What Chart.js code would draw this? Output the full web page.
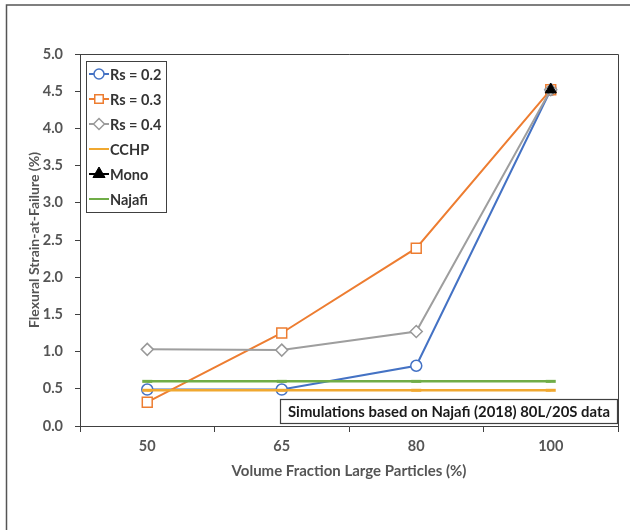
<!DOCTYPE html>
<html>
<head>
<meta charset="utf-8">
<script src="https://cdn.jsdelivr.net/npm/chart.js@4.4.1/dist/chart.umd.min.js"></script>
<style>
  html, body { margin: 0; padding: 0; background: #fff; }
  #wrap { width: 630px; height: 530px; position: relative; }
</style>
</head>
<body>
<div id="wrap"><canvas id="c" width="630" height="530"></canvas></div>
<script>
// ---- data ----
const categories = ['50', '65', '80', '100'];
const rs02 = [0.49, 0.49, 0.81, 4.52];
const rs03 = [0.32, 1.25, 2.39, 4.52];
const rs04 = [1.03, 1.02, 1.27, 4.52];
const cchp = [0.48, 0.48, 0.48, 0.48];
const mono = [null, null, null, 4.52];
const najafi = [0.60, 0.60, 0.60, 0.60];
const yTicks = [0, 0.5, 1, 1.5, 2, 2.5, 3, 3.5, 4, 4.5, 5];
const xTitle = 'Volume Fraction Large Particles (%)';
const yTitle = 'Flexural Strain-at-Failure (%)';
const noteText = 'Simulations based on Najafi (2018) 80L/20S data';

const FONT = 'Lato, "Open Sans", "DejaVu Sans", sans-serif';

const frame = {
  id: 'frame',
  beforeDraw(chart) {
    const ctx = chart.ctx;
    ctx.save();
    ctx.fillStyle = '#fff';
    ctx.fillRect(0, 0, chart.width, chart.height);
    ctx.strokeStyle = '#555';
    ctx.lineWidth = 1.5;
    ctx.beginPath();
    ctx.moveTo(6.5, chart.height);
    ctx.lineTo(6.5, 5);
    ctx.lineTo(chart.width, 5);
    ctx.stroke();
    ctx.restore();
  },
  afterDraw(chart) {
    const ctx = chart.ctx;
    const a = chart.chartArea;
    ctx.save();
    // top and right plot border
    ctx.strokeStyle = '#404040';
    ctx.lineWidth = 1;
    ctx.beginPath();
    ctx.moveTo(a.left, a.top + 0.5);
    ctx.lineTo(a.right + 0.5, a.top + 0.5);
    ctx.lineTo(a.right + 0.5, a.bottom);
    ctx.stroke();

    // legend
    const lx = a.left + 6, ly = a.top + 7, lw = 80, lh = 151;
    ctx.fillStyle = '#fff';
    ctx.fillRect(lx, ly, lw, lh);
    ctx.strokeStyle = '#404040';
    ctx.lineWidth = 1;
    ctx.strokeRect(lx + 0.5, ly + 0.5, lw, lh);
    ctx.font = 'bold 14.5px ' + FONT;
    ctx.textBaseline = 'middle';
    ctx.textAlign = 'left';
    chart.data.datasets.forEach((ds, k) => {
      const y = ly + 13 + k * 25;
      const x0 = lx + 3, x1 = lx + 23;
      ctx.strokeStyle = ds.borderColor;
      ctx.lineWidth = 2;
      ctx.beginPath();
      ctx.moveTo(x0, y);
      ctx.lineTo(x1, y);
      ctx.stroke();
      if (ds.legendMarker) {
        ctx.fillStyle = ds.pointBackgroundColor;
        ctx.strokeStyle = ds.pointBorderColor || ds.borderColor;
        ctx.lineWidth = ds.pointBorderWidth || 1.5;
        Chart.helpers.drawPoint(ctx, {
          pointStyle: ds.pointStyle,
          radius: ds.legendRadius,
          borderWidth: ds.pointBorderWidth || 1.5,
          rotation: 0
        }, (x0 + x1) / 2, y);
      }
      ctx.fillStyle = '#333';
      ctx.fillText(ds.label, x1 + 1, y + 1);
    });

    // note box
    ctx.font = 'bold 14px ' + FONT;
    let w = ctx.measureText(noteText).width;
    let size = 14 * 322 / w;
    ctx.font = 'bold ' + size.toFixed(2) + 'px ' + FONT;
    const bx = 280, by = 399, bw = 337, bh = 24;
    ctx.fillStyle = '#fff';
    ctx.fillRect(bx, by, bw, bh);
    ctx.strokeStyle = '#404040';
    ctx.lineWidth = 1.2;
    ctx.strokeRect(bx + 0.5, by + 0.5, bw, bh);
    ctx.fillStyle = '#1a1a1a';
    ctx.textAlign = 'left';
    ctx.textBaseline = 'middle';
    ctx.fillText(noteText, bx + 8, by + bh / 2 + 1);
    ctx.restore();
  }
};

new Chart(document.getElementById('c'), {
  type: 'line',
  data: {
    labels: categories,
    datasets: [
      { label: 'Rs = 0.2', data: rs02, borderColor: '#4472C4', borderWidth: 2,
        pointStyle: 'circle', pointRadius: 5.5, pointBackgroundColor: '#fff', pointBorderColor: '#4472C4',
        pointBorderWidth: 1.5, legendMarker: true, legendRadius: 5, order: 6 },
      { label: 'Rs = 0.3', data: rs03, borderColor: '#ED7D31', borderWidth: 2,
        pointStyle: 'rect', pointRadius: 7, pointBackgroundColor: '#fff', pointBorderColor: '#ED7D31',
        pointBorderWidth: 1.5, legendMarker: true, legendRadius: 6, order: 5 },
      { label: 'Rs = 0.4', data: rs04, borderColor: '#9E9E9E', borderWidth: 2,
        pointStyle: 'rectRot', pointRadius: 6, pointBackgroundColor: '#fff', pointBorderColor: '#999',
        pointBorderWidth: 1.5, legendMarker: true, legendRadius: 5.5, order: 4 },
      { label: 'CCHP', data: cchp, borderColor: '#F0A830', borderWidth: 2.5,
        pointStyle: 'line', pointRadius: 5, pointBorderColor: '#F0A830', pointBackgroundColor: '#F0A830',
        pointBorderWidth: 3, legendMarker: false, order: 3 },
      { label: 'Mono', data: mono, borderColor: '#000', borderWidth: 2,
        pointStyle: 'triangle', pointRadius: 6.5, pointBackgroundColor: '#000', pointBorderColor: '#000',
        pointBorderWidth: 1, legendMarker: true, legendRadius: 7, order: 0 },
      { label: 'Najafi', data: najafi, borderColor: '#70AD47', borderWidth: 2.5,
        pointStyle: 'line', pointRadius: 5, pointBorderColor: '#70AD47', pointBackgroundColor: '#70AD47',
        pointBorderWidth: 3, legendMarker: false, order: 2 }
    ]
  },
  options: {
    responsive: false,
    animation: false,
    layout: { padding: { left: 0, right: 12, top: 54, bottom: 0 } },
    plugins: {
      legend: { display: false },
      tooltip: { enabled: false }
    },
    elements: { line: { tension: 0 } },
    scales: {
      x: {
        type: 'category',
        offset: true,
        afterFit(s) { s.height = 104; },
        grid: { display: true, offset: true, drawOnChartArea: false, drawTicks: true, tickLength: 6, color: '#404040' },
        border: { display: true, color: '#404040', width: 1 },
        ticks: { color: '#555', font: { family: FONT, size: 14.5, weight: 'bold' }, padding: 6, maxRotation: 0 },
        title: { display: true, text: xTitle, color: '#555', font: { family: FONT, size: 15, weight: 'bold' },
                 padding: { top: 0, bottom: 50 } }
      },
      y: {
        min: 0, max: 5,
        afterFit(s) { s.width = 80; },
        afterBuildTicks(s) { s.ticks = yTicks.map(v => ({ value: v })); },
        grid: { display: true, drawOnChartArea: false, drawTicks: true, tickLength: 5, color: '#404040' },
        border: { display: true, color: '#404040', width: 1 },
        ticks: { color: '#555', font: { family: FONT, size: 14.5, weight: 'bold' }, padding: 12,
                 callback: v => Number(v).toFixed(1) },
        title: { display: true, text: yTitle, color: '#555', font: { family: FONT, size: 14, weight: 'bold' },
                 padding: { top: 26, bottom: 0 } }
      }
    }
  },
  plugins: [frame]
});
</script>
</body>
</html>
